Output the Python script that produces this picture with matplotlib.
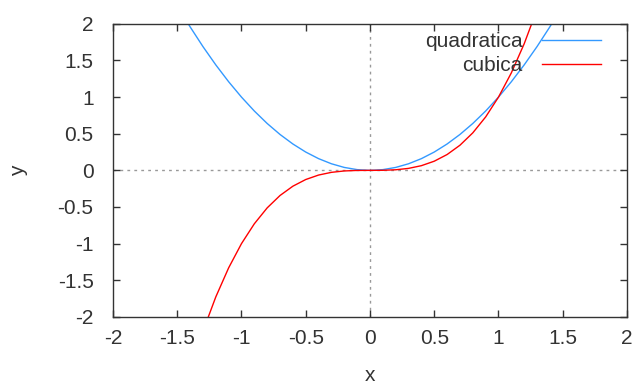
import numpy as np
import matplotlib.pyplot as plt

plt.rcParams['font.family'] = ['Liberation Sans', 'DejaVu Sans']

# sampled points of the two curves
x = [-2.0, -1.9, -1.8, -1.7, -1.6, -1.5, -1.4, -1.3, -1.2, -1.1, -1.0,
     -0.9, -0.8, -0.7, -0.6, -0.5, -0.4, -0.3, -0.2, -0.1, 0.0,
     0.1, 0.2, 0.3, 0.4, 0.5, 0.6, 0.7, 0.8, 0.9, 1.0,
     1.1, 1.2, 1.3, 1.4, 1.5, 1.6, 1.7, 1.8, 1.9, 2.0]
quadratica = [4.0, 3.61, 3.24, 2.89, 2.56, 2.25, 1.96, 1.69, 1.44, 1.21, 1.0,
              0.81, 0.64, 0.49, 0.36, 0.25, 0.16, 0.09, 0.04, 0.01, 0.0,
              0.01, 0.04, 0.09, 0.16, 0.25, 0.36, 0.49, 0.64, 0.81, 1.0,
              1.21, 1.44, 1.69, 1.96, 2.25, 2.56, 2.89, 3.24, 3.61, 4.0]
cubica = [-8.0, -6.859, -5.832, -4.913, -4.096, -3.375, -2.744, -2.197, -1.728, -1.331, -1.0,
          -0.729, -0.512, -0.343, -0.216, -0.125, -0.064, -0.027, -0.008, -0.001, 0.0,
          0.001, 0.008, 0.027, 0.064, 0.125, 0.216, 0.343, 0.512, 0.729, 1.0,
          1.331, 1.728, 2.197, 2.744, 3.375, 4.096, 4.913, 5.832, 6.859, 8.0]

xticks = [-2, -1.5, -1, -0.5, 0, 0.5, 1, 1.5, 2]
yticks = [-2, -1.5, -1, -0.5, 0, 0.5, 1, 1.5, 2]

txt = '#333333'
fs = 15
fig = plt.figure(figsize=(6.33, 3.85), dpi=100)
ax = fig.add_axes([0.1785, 0.177, 0.812, 0.761])

# dotted zero axes
ax.axhline(0, color='#999999', lw=1, ls=(0, (2, 3)), zorder=1)
ax.axvline(0, color='#999999', lw=1, ls=(0, (2, 3)), zorder=1)

ax.plot(x, quadratica, color='#3399ff', lw=1, label='quadratica')
ax.plot(x, cubica, color='#ff0000', lw=1, label='cubica')

ax.set_xlim(-2, 2)
ax.set_ylim(-2, 2)
ax.set_xticks(xticks)
ax.set_yticks(yticks)
ax.set_xticklabels([f'{t:g}' for t in xticks])
ax.set_yticklabels([f'{t:g}' for t in yticks])
ax.tick_params(direction='in', top=True, right=True, length=5, width=1,
               color='#333333', labelsize=fs, labelcolor=txt)
ax.tick_params(axis='x', pad=9)
ax.tick_params(axis='y', pad=14)
for s in ax.spines.values():
    s.set_color('#333333')
    s.set_linewidth(1)

ax.set_xlabel('x', fontsize=fs, color=txt, labelpad=13)
ax.set_ylabel('y', fontsize=fs, color=txt, labelpad=21)

leg = ax.legend(loc='upper right', bbox_to_anchor=(0.949, 0.972),
                frameon=False, markerfirst=False, fontsize=fs,
                handlelength=2.8, handletextpad=0.95, labelspacing=0.24,
                borderaxespad=0, borderpad=0)
for t in leg.get_texts():
    t.set_color(txt)

fig.savefig('out.png', dpi=100)
